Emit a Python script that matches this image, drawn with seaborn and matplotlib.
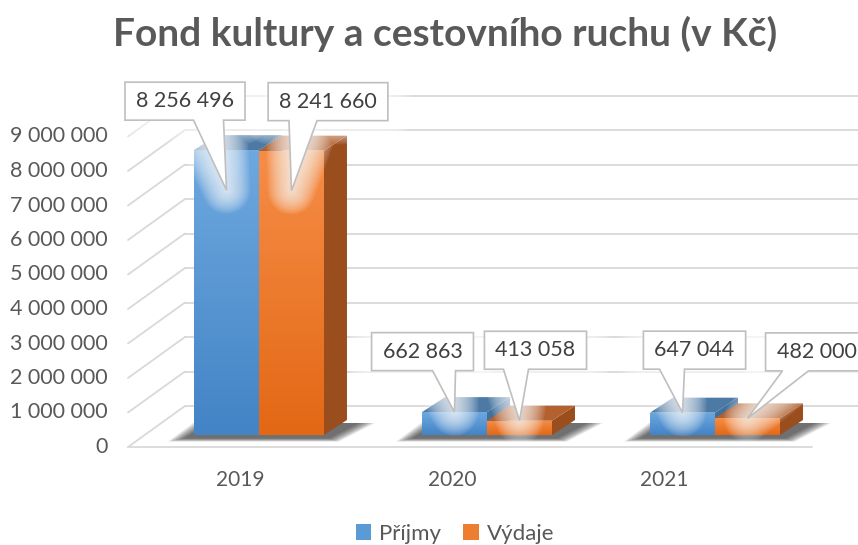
import numpy as np
import pandas as pd
import matplotlib
matplotlib.use("Agg")
import matplotlib.pyplot as plt
import seaborn as sns
from matplotlib.patches import Polygon, Patch
from matplotlib.lines import Line2D
from matplotlib.transforms import Affine2D, IdentityTransform

# ---------------- data ----------------
years = ["2019", "2020", "2021"]
series = ["Příjmy", "Výdaje"]
prijmy = [8256496, 662863, 647044]
vydaje = [8241660, 413058, 482000]
yticks = [0, 1000000, 2000000, 3000000, 4000000, 5000000,
          6000000, 7000000, 8000000, 9000000]
title = "Fond kultury a cestovního ruchu (v Kč)"

# ---------------- style ----------------
BLUE, ORANGE = "#5b9bd5", "#ed7d31"
GRAD = {0: ("#6ea8df", "#4384c6"), 1: ("#f68d47", "#e36815")}
TOPC = {0: "#4d79a5", 1: "#b3612f"}
SIDEC = {0: "#41709c", 1: "#9a4d1d"}
GRID = "#d9d9d9"
TXT = "#595959"

sns.set_theme(style="white")
plt.rcParams["font.family"] = ["Lato", "DejaVu Sans"]

W, H = 858, 545
fig = plt.figure(figsize=(W / 100, H / 100), dpi=100)
ax = fig.add_axes([145 / W, 110 / H, 684 / W, 310.5 / H])

df = pd.DataFrame({
    "year": years * 2,
    "value": prijmy + vydaje,
    "series": [series[0]] * len(years) + [series[1]] * len(years),
})
sns.barplot(data=df, x="year", y="value", hue="series",
            palette=[BLUE, ORANGE], width=0.57, saturation=1,
            errorbar=None, legend=False, ax=ax, linewidth=0, zorder=3)
ax.set_xlim(-0.5, 2.5)
ax.set_ylim(0, 9e6)
ax.axis("off")

ID = IdentityTransform()
T = ax.transData
front = T + Affine2D().translate(-17, -12)
back = T + Affine2D().translate(40, 29)
DEPTH = np.array([23.0, 15.0])

# ---------------- walls ----------------
for v in yticks:
    ax.add_artist(Line2D([-0.5, 2.5], [v, v], transform=back, color=GRID,
                         lw=1.3, zorder=1, clip_on=False))
    p0 = front.transform((-0.5, v))
    p1 = back.transform((-0.5, v))
    ax.add_artist(Line2D([p0[0], p1[0]], [p0[1], p1[1]], transform=ID,
                         color=GRID, lw=1.3, zorder=1, clip_on=False))
    ax.text(-0.5, v, f"{v:,}".replace(",", " "),
            transform=front + Affine2D().translate(-20, 0),
            ha="right", va="center", fontsize=15.5, color=TXT)
ax.add_artist(Line2D([-0.5, 2.5], [0, 0], transform=front, color=GRID,
                     lw=1.3, zorder=1, clip_on=False))

# category labels
for i, y in enumerate(years):
    ax.text(i, 0, y, transform=T + Affine2D().translate(-19 - 16 * i, -45),
            ha="center", va="center", fontsize=15, color=TXT)

# ---------------- bars (3D) ----------------
bars = sorted(ax.patches, key=lambda p: p.get_x())
for p in bars:
    p.set_visible(False)

for ci in range(len(years)):
    pair = bars[2 * ci: 2 * ci + 2]
    g0 = T.transform((pair[0].get_x(), 0))
    g1 = T.transform((pair[1].get_x() + pair[1].get_width(), 0))
    # soft shadow
    n = 10
    for k in range(n):
        e = 18 * (1 - k / n)
        pts = [(g0[0] - 8 - e, g0[1] - 3 - e * 0.2),
               (g1[0] + 4 + e * 0.6, g1[1] - 3 - e * 0.2),
               (g1[0] + DEPTH[0] + 10 + e, g1[1] + DEPTH[1] - 3),
               (g0[0] + DEPTH[0] - 6 - e, g0[1] + DEPTH[1] - 3)]
        ax.add_artist(Polygon(pts, closed=True, transform=ID, facecolor="#1a1a1a",
                              edgecolor="none", alpha=0.09, zorder=1.5, clip_on=False))
    for si, p in enumerate(pair):
        x0, x1, h = p.get_x(), p.get_x() + p.get_width(), p.get_height()
        a = T.transform((x0, 0))
        b = T.transform((x1, h))
        X0, Y0, X1, Yt = a[0], a[1], b[0], b[1]
        dx, dy = DEPTH
        side = [(X1, Y0), (X1 + dx, Y0 + dy), (X1 + dx, Yt + dy), (X1, Yt)]
        top = [(X0, Yt), (X1, Yt), (X1 + dx, Yt + dy), (X0 + dx, Yt + dy)]
        ax.add_artist(Polygon(side, closed=True, transform=ID, facecolor=SIDEC[si],
                              edgecolor="none", zorder=2, clip_on=False))
        ax.add_artist(Polygon(top, closed=True, transform=ID, facecolor=TOPC[si],
                              edgecolor="none", zorder=2, clip_on=False))
        frontp = Polygon([(X0, Y0), (X1, Y0), (X1, Yt), (X0, Yt)], closed=True,
                         transform=ID, facecolor="none", edgecolor="none")
        ax.add_artist(frontp)
        c_top = np.array(matplotlib.colors.to_rgb(GRAD[si][0]))
        c_bot = np.array(matplotlib.colors.to_rgb(GRAD[si][1]))
        t = np.linspace(0, 1, 64)[:, None]
        grad = (c_top * (1 - t) + c_bot * t)[:, None, :]
        im = ax.imshow(grad, extent=[x0, x1, 0, h], aspect="auto", zorder=3,
                       interpolation="bilinear")
        im.set_clip_path(frontp)

ax.set_xlim(-0.5, 2.5)
ax.set_ylim(0, 9e6)

# ---------------- callout labels ----------------
values = [prijmy[0], vydaje[0], prijmy[1], vydaje[1], prijmy[2], vydaje[2]]
# box-centre offset from tip (px, x right / y up), pointer base relative to box centre
layout = [(-41.5, 89, 8.5, 38.5), (36.5, 89, -39, -11), (-32, 60.5, 10, 33),
          (16, 70.5, -32, -7), (12, 62.5, -35, -10), (69, 66.5, -34, -8)]
fig.canvas.draw()
renderer = fig.canvas.get_renderer()
for k, p in enumerate(bars):
    h = p.get_height()
    xc = p.get_x() + p.get_width() / 2
    tip = T.transform((xc, h))
    if tip[1] - T.transform((xc, 0))[1] > 80:
        tip = tip - np.array([0, 40])
    ox, oy, b1, b2 = layout[k]
    cx, cy = tip[0] + ox, tip[1] + oy
    txt = ax.text(cx, cy, f"{values[k]:,}".replace(",", " "), transform=ID,
                  ha="center", va="center", fontsize=15.5, color="#404040", zorder=7)
    bb = txt.get_window_extent(renderer)
    w2 = bb.width / 2 + 11
    h2 = 19
    poly = [(cx - w2, cy + h2), (cx + w2, cy + h2), (cx + w2, cy - h2),
            (cx + b2, cy - h2), (tip[0], tip[1]), (cx + b1, cy - h2),
            (cx - w2, cy - h2)]
    for lw in np.linspace(34, 2, 14):
        ax.add_artist(Polygon(poly, closed=True, transform=ID, facecolor="white",
                              edgecolor="white", lw=lw, alpha=0.09, zorder=5,
                              joinstyle="round", clip_on=False))
    ax.add_artist(Polygon(poly, closed=True, transform=ID, facecolor="white",
                          edgecolor="#bfbfbf", lw=1.2, zorder=6, clip_on=False))

# ---------------- title & legend ----------------
fig.text(445 / W, 1 - 34 / H, title, ha="center", va="center",
         fontsize=28, fontweight="bold", color=TXT)
handles = [Patch(facecolor=BLUE, edgecolor="none", label=series[0]),
           Patch(facecolor=ORANGE, edgecolor="none", label=series[1])]
fig.legend(handles=handles, loc="center", bbox_to_anchor=(455 / W, 1 - 534 / H),
           ncol=2, frameon=False, fontsize=16, handlelength=0.7,
           handleheight=0.7, handletextpad=0.35, columnspacing=1.0,
           labelcolor=TXT, borderaxespad=0)

fig.savefig("out.png", dpi=100)
